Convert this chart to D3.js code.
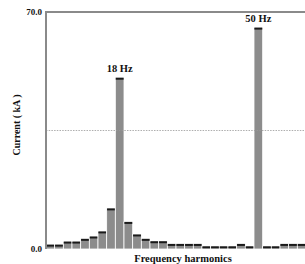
<!DOCTYPE html>
<html>
<head>
<meta charset="utf-8">
<script src="https://cdn.jsdelivr.net/npm/d3@7"></script>
<style>
  body { margin: 0; background: #fff; }
  svg text { font-family: "Liberation Serif", "Times New Roman", serif; font-weight: bold; fill: #111; }
</style>
</head>
<body>
<script>
// harmonic frequencies (Hz), one bar each
var freqs = [2, 4, 6, 8, 10, 12, 14, 16, 18, 20, 22, 24, 26, 28, 30,
             32, 34, 36, 38, 40, 42, 44, 46, 48, 50, 52, 54, 56, 58, 60];
// current (kA)
var current = [1.3, 1.3, 2.2, 2.2, 3.0, 3.7, 5.2, 12.0, 50.6, 8.0,
               4.3, 3.0, 2.3, 2.3, 1.5, 1.5, 1.5, 1.5, 0.8, 0.8,
               0.8, 0.8, 1.5, 0.8, 65.4, 0.8, 0.8, 1.5, 1.5, 1.5];
var yTicks = [0, 70];
var refLevel = 35;
var peakLabels = [18, 50];

var W = 305, H = 264;
var plotL = 46, plotR = 306, plotT = 12, plotB = 249;

var data = freqs.map(function(f, i) { return {f: f, v: current[i]}; });

var x = d3.scaleBand().domain(freqs).range([plotL, plotR]).padding(0);
var y = d3.scaleLinear().domain([0, 70]).range([plotB, plotT]);

var svg = d3.select('body').append('svg')
    .attr('width', W)
    .attr('height', H);

// bars
var bars = svg.selectAll('.bar')
    .data(data)
    .enter()
    .append('g')
    .attr('class', 'bar');
bars.append('rect')
    .attr('x', function(d) { return x(d.f); })
    .attr('y', function(d) { return y(d.v); })
    .attr('width', x.bandwidth())
    .attr('height', function(d) { return plotB - y(d.v); })
    .attr('fill', '#8c8c8c')
    .attr('stroke', '#fff')
    .attr('stroke-width', 0.8);
// dark cap on top of each bar
bars.append('rect')
    .attr('x', function(d) { return x(d.f) + 0.4; })
    .attr('y', function(d) { return y(d.v); })
    .attr('width', x.bandwidth() - 0.8)
    .attr('height', 2)
    .attr('fill', '#1a1a1a');

// dotted reference line
svg.append('line')
    .attr('x1', plotL).attr('x2', plotR)
    .attr('y1', y(refLevel)).attr('y2', y(refLevel))
    .attr('stroke', '#999')
    .attr('stroke-width', 0.8)
    .attr('stroke-dasharray', '1.5,1.2');

// frame: left axis and top line
svg.append('line')
    .attr('x1', plotL).attr('x2', plotL)
    .attr('y1', plotT).attr('y2', plotB)
    .attr('stroke', '#8a8a8a').attr('stroke-width', 2);
svg.append('line')
    .attr('x1', plotL - 1).attr('x2', W)
    .attr('y1', plotT).attr('y2', plotT)
    .attr('stroke', '#8a8a8a').attr('stroke-width', 2);

// y tick labels
svg.selectAll('.ytick')
    .data(yTicks)
    .enter()
    .append('text')
    .attr('class', 'ytick')
    .attr('x', plotL - 4)
    .attr('y', function(d) { return y(d); })
    .attr('dy', '0.35em')
    .attr('text-anchor', 'end')
    .attr('font-size', '9px')
    .text(function(d) { return d.toFixed(1); });

// peak labels
svg.selectAll('.peak')
    .data(data.filter(function(d) { return peakLabels.indexOf(d.f) >= 0; }))
    .enter()
    .append('text')
    .attr('class', 'peak')
    .attr('x', function(d) { return x(d.f) + x.bandwidth() / 2; })
    .attr('y', function(d) { return y(d.v) - 6; })
    .attr('text-anchor', 'middle')
    .attr('font-size', '10.5px')
    .text(function(d) { return d.f + ' Hz'; });

// axis titles
svg.append('text')
    .attr('x', 183)
    .attr('y', 262)
    .attr('text-anchor', 'middle')
    .attr('font-size', '10.5px')
    .text('Frequency harmonics');
svg.append('text')
    .attr('transform', 'translate(20,125) rotate(-90)')
    .attr('text-anchor', 'middle')
    .attr('font-size', '10px')
    .text('Current ( kA )');
</script>
</body>
</html>
